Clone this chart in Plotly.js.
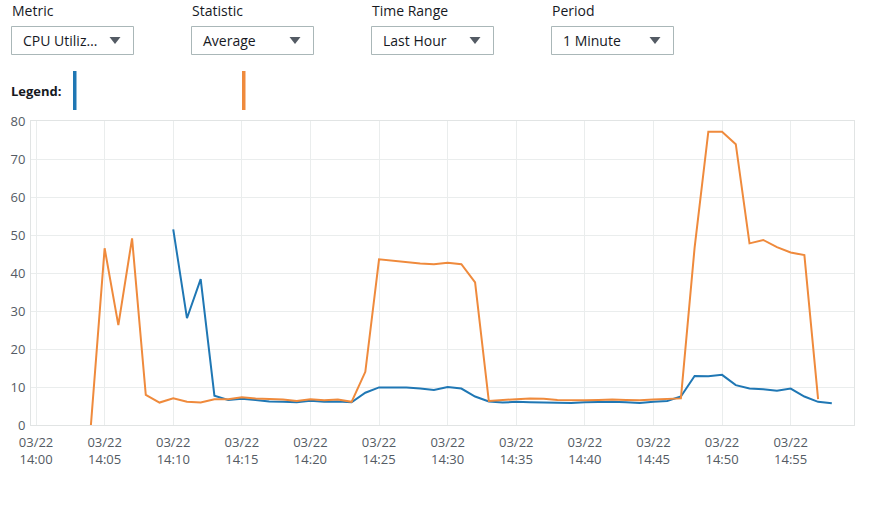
<!DOCTYPE html>
<html>
<head>
<meta charset="utf-8">
<script src="https://cdn.plot.ly/plotly-3.0.1.min.js"></script>
<style>
  html, body { margin: 0; padding: 0; background: #ffffff; }
  #chart { width: 891px; height: 511px; }
</style>
</head>
<body>
<div id="chart"></div>
<script>
// ---- data ----
const day = '2024-03-22';
const times = [
  '14:00','14:01','14:02','14:03','14:04','14:05','14:06','14:07','14:08','14:09',
  '14:10','14:11','14:12','14:13','14:14','14:15','14:16','14:17','14:18','14:19',
  '14:20','14:21','14:22','14:23','14:24','14:25','14:26','14:27','14:28','14:29',
  '14:30','14:31','14:32','14:33','14:34','14:35','14:36','14:37','14:38','14:39',
  '14:40','14:41','14:42','14:43','14:44','14:45','14:46','14:47','14:48','14:49',
  '14:50','14:51','14:52','14:53','14:54','14:55','14:56','14:57','14:58'
];
const blueValues = [
  null, null, null, null, null, null, null, null, null, null,
  51.5, 28.1, 38.4, 7.7, 6.6, 6.9, 6.6, 6.2, 6.1, 6.0,
  6.4, 6.1, 6.2, 6.0, 8.5, 9.9, 9.9, 9.9, 9.6, 9.2,
  10.0, 9.6, 7.5, 6.2, 5.9, 6.1, 6.0, 5.9, 5.9, 5.8,
  6.0, 6.1, 6.1, 6.0, 5.8, 6.1, 6.3, 7.5, 12.9, 12.8,
  13.2, 10.5, 9.6, 9.4, 9.0, 9.6, 7.5, 6.1, 5.7
];
const orangeValues = [
  null, null, null, null, 0, 46.5, 26.3, 49.1, 7.9, 5.9,
  7.0, 6.1, 5.9, 6.8, 6.8, 7.3, 7.0, 6.9, 6.7, 6.3,
  6.8, 6.5, 6.7, 6.1, 14.0, 43.6, 43.2, 42.8, 42.5, 42.3,
  42.7, 42.3, 37.5, 6.3, 6.6, 6.8, 7.0, 6.9, 6.6, 6.5,
  6.5, 6.6, 6.7, 6.6, 6.5, 6.7, 6.8, 7.0, 46.7, 77.2,
  77.2, 73.9, 47.8, 48.7, 46.8, 45.4, 44.7, 6.8, null
];
const tickTimes = ['14:00','14:05','14:10','14:15','14:20','14:25','14:30','14:35','14:40','14:45','14:50','14:55'];
const tickDate = '03/22';
const yTicks = [0, 10, 20, 30, 40, 50, 60, 70, 80];

const controlLabels = ['Metric', 'Statistic', 'Time Range', 'Period'];
const controlValues = ['CPU Utiliz\u2026', 'Average', 'Last Hour', '1 Minute'];
const legendLabel = 'Legend:';

const blueColor = '#1f77b4';
const orangeColor = '#ef8a3c';

// ---- layout helpers (pixel -> paper) ----
const W = 891, H = 511;
const L = 31, R = 854, T = 121, B = 425;
const px = x => (x - L) / (R - L);
const py = y => (B - y) / (B - T);

const toDate = t => day + ' ' + t;

const traces = [
  {
    x: times.map(toDate), y: blueValues, type: 'scatter', mode: 'lines',
    line: { color: blueColor, width: 2 }, connectgaps: false, hoverinfo: 'x+y', showlegend: false
  },
  {
    x: times.map(toDate), y: orangeValues, type: 'scatter', mode: 'lines',
    line: { color: orangeColor, width: 2 }, connectgaps: false, hoverinfo: 'x+y', showlegend: false
  }
];

const shapes = [];
const annotations = [];
const boxLefts = [11, 191, 371, 551];
const boxW = 123;
const textColor = '#16191f';
const font = 'Open Sans, Noto Sans, sans-serif';

controlLabels.forEach((lab, i) => {
  const x0 = boxLefts[i];
  annotations.push({
    xref: 'paper', yref: 'paper', x: px(x0 - 1), y: py(11),
    xanchor: 'left', yanchor: 'middle', text: lab, showarrow: false,
    font: { family: font, size: 14, color: textColor }
  });
  shapes.push({
    type: 'rect', xref: 'paper', yref: 'paper',
    x0: px(x0 + 0.5), x1: px(x0 + boxW - 0.5), y0: py(26.5), y1: py(54.5),
    line: { color: '#aab7b8', width: 1 }, fillcolor: '#ffffff'
  });
  annotations.push({
    xref: 'paper', yref: 'paper', x: px(x0 + 10), y: py(40.5),
    xanchor: 'left', yanchor: 'middle', text: controlValues[i], showarrow: false,
    font: { family: font, size: 14, color: textColor }
  });
  const ax = x0 + boxW - 19;
  shapes.push({
    type: 'path', xref: 'paper', yref: 'paper',
    path: 'M ' + px(ax - 5.5) + ' ' + py(37) + ' L ' + px(ax + 5.5) + ' ' + py(37) + ' L ' + px(ax) + ' ' + py(44) + ' Z',
    fillcolor: '#545b64', line: { width: 0 }
  });
});

annotations.push({
  xref: 'paper', yref: 'paper', x: px(9), y: py(91),
  xanchor: 'left', yanchor: 'middle', text: '<b>' + legendLabel + '</b>', showarrow: false,
  font: { family: font, size: 13, color: textColor }
});
shapes.push({
  type: 'rect', xref: 'paper', yref: 'paper',
  x0: px(73), x1: px(76.5), y0: py(71), y1: py(110),
  fillcolor: blueColor, line: { width: 0 }
});
shapes.push({
  type: 'rect', xref: 'paper', yref: 'paper',
  x0: px(242), x1: px(245.5), y0: py(71), y1: py(110),
  fillcolor: orangeColor, line: { width: 0 }
});

const layout = {
  width: W, height: H,
  margin: { l: L, r: W - R, t: T, b: H - B, pad: 0 },
  paper_bgcolor: '#ffffff', plot_bgcolor: '#ffffff',
  showlegend: false,
  font: { family: font, size: 13, color: '#545b64' },
  xaxis: {
    type: 'date',
    range: [day + ' 13:59:38', day + ' 14:59:37'],
    tickvals: tickTimes.map(toDate),
    ticktext: tickTimes.map(t => tickDate + '<br>' + t),
    showgrid: true, gridcolor: '#eaeded', gridwidth: 1,
    showline: true, linecolor: '#e1e4e4', linewidth: 1, mirror: true,
    ticks: '', zeroline: false,
    ticklabelstandoff: 5,
    tickfont: { family: font, size: 13, color: '#545b64' }
  },
  yaxis: {
    range: [0, 80],
    tickvals: yTicks,
    showgrid: true, gridcolor: '#eaeded', gridwidth: 1,
    showline: true, linecolor: '#e1e4e4', linewidth: 1, mirror: true,
    ticks: '', zeroline: false,
    ticklabelstandoff: 2,
    tickfont: { family: font, size: 13, color: '#545b64' }
  },
  shapes: shapes,
  annotations: annotations
};

Plotly.newPlot('chart', traces, layout, { displayModeBar: false, staticPlot: true });
</script>
</body>
</html>
